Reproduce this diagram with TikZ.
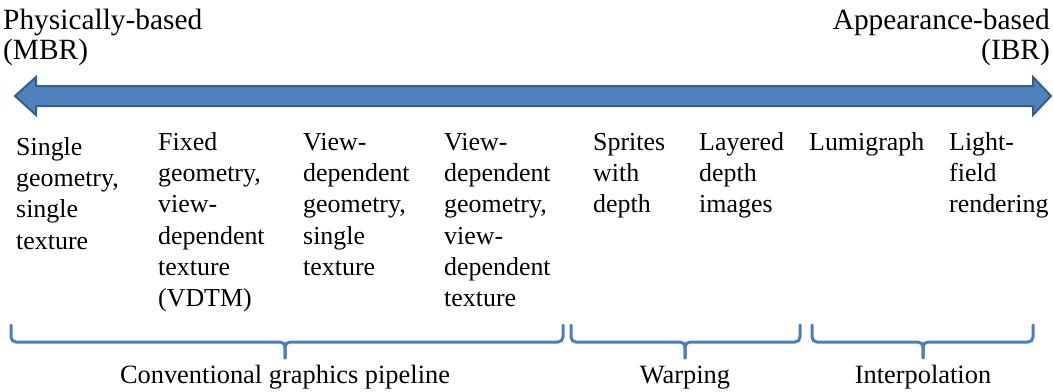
\documentclass[tikz,border=0pt]{standalone}
\usepackage{fontspec}
\IfFontExistsTF{LiberationSerif-Regular.ttf}
  {\setmainfont{LiberationSerif}[Extension=.ttf,UprightFont=*-Regular,BoldFont=*-Bold,ItalicFont=*-Italic,BoldItalicFont=*-BoldItalic]}
  {\setmainfont{Liberation Serif}}
\definecolor{arrfill}{HTML}{4F81BD}
\definecolor{arrline}{HTML}{385D8A}
\definecolor{bracecol}{HTML}{4A7EBB}
\newcommand\colbox[1]{\begin{tabular}[t]{@{}l@{}}#1\end{tabular}}
\newcommand\rcolbox[1]{\begin{tabular}[t]{@{}r@{}}#1\end{tabular}}
\begin{document}
\begin{tikzpicture}[x=1bp,y=-1bp,
  heading/.style={inner sep=0pt,font=\rmfamily\fontsize{29.5}{31}\selectfont},
  item/.style={inner sep=0pt,anchor=base west,font=\rmfamily\fontsize{26}{31.5}\selectfont},
  grouplabel/.style={inner sep=0pt,anchor=base,font=\rmfamily\fontsize{26.5}{31}\selectfont},
  bracestyle/.style={draw=bracecol,line width=3bp,rounded corners=5bp,line cap=round}]
\useasboundingbox (0,0) rectangle (1053,391);
% double arrow
\draw[fill=arrfill,draw=arrline,line width=2bp,line join=miter]
  (15,96) -- (36,77) -- (36,86) -- (1033,86) -- (1033,77) -- (1051,96)
  -- (1033,115) -- (1033,106) -- (36,106) -- (36,115) -- cycle;
% headings
\node[heading,anchor=base west] (phys) at (3,29) {\colbox{Physically-based\\(MBR)}};
\node[heading,anchor=base east] (app) at (1050,29) {\rcolbox{Appearance-based\\(IBR)}};
% items
\node[item] (c1) at (16,155) {\colbox{Single\\geometry,\\single\\texture}};
\node[item] (c2) at (158,150) {\colbox{Fixed\\geometry,\\view-\\dependent\\texture\\(VDTM)}};
\node[item] (c3) at (303,150) {\colbox{View-\\dependent\\geometry,\\single\\texture}};
\node[item] (c4) at (444,150) {\colbox{View-\\dependent\\geometry,\\view-\\dependent\\texture}};
\node[item] (c5) at (593,150) {\colbox{Sprites\\with\\depth}};
\node[item] (c6) at (699,150) {\colbox{Layered\\depth\\images}};
\node[item] (c7) at (809,150) {\colbox{Lumigraph}};
\node[item] (c8) at (949,150) {\colbox{Light-\\field\\rendering}};
% braces
\draw[bracestyle] (11,325) -- (11,342) -- (285,342) -- (285,358);
\draw[bracestyle] (563,325) -- (563,342) -- (285,342) -- (285,358);
\draw[bracestyle] (571,325) -- (571,342) -- (685,342) -- (685,358);
\draw[bracestyle] (800,325) -- (800,342) -- (685,342) -- (685,358);
\draw[bracestyle] (812,325) -- (812,342) -- (923,342) -- (923,358);
\draw[bracestyle] (1033,325) -- (1033,342) -- (923,342) -- (923,358);
% group labels
\node[grouplabel] (g1) at (285,383) {Conventional graphics pipeline};
\node[grouplabel] (g2) at (685,383) {Warping};
\node[grouplabel] (g3) at (923,383) {Interpolation};
\end{tikzpicture}
\end{document}
